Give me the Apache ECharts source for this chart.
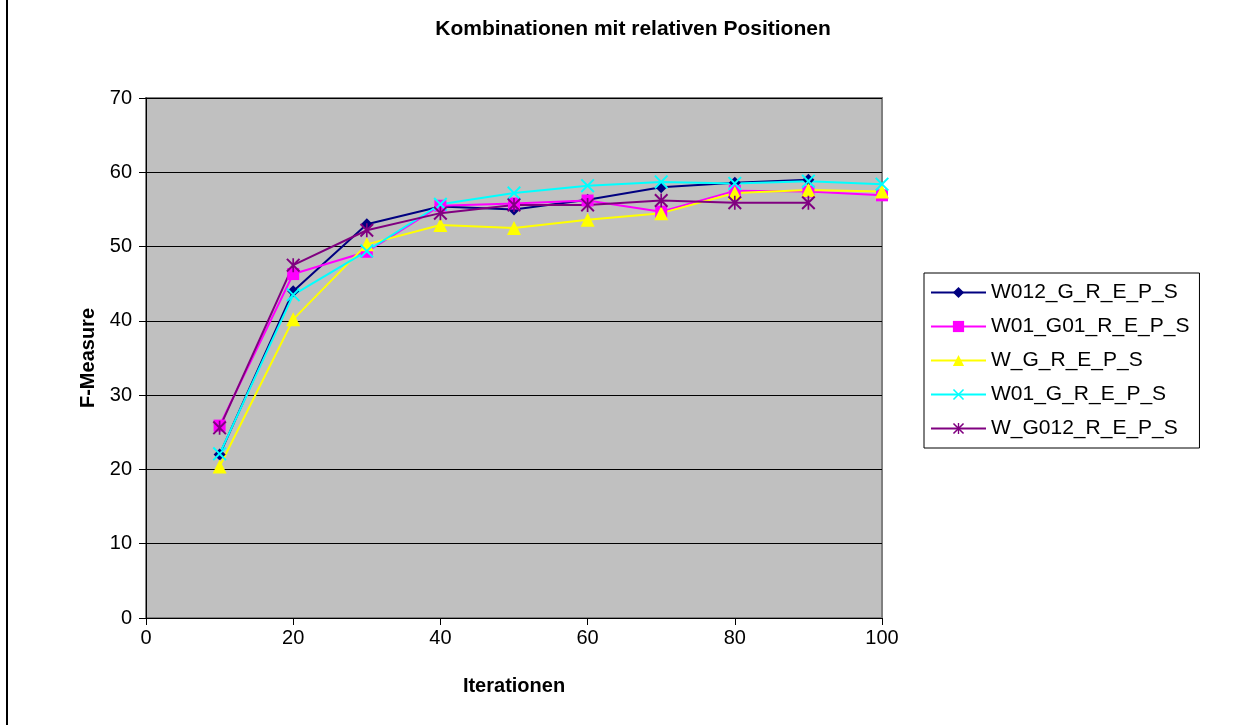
<!DOCTYPE html>
<html>
<head>
<meta charset="utf-8">
<script src="https://cdn.jsdelivr.net/npm/echarts@6/dist/echarts.min.js"></script>
<style>
  html, body { margin: 0; padding: 0; background: #fff; }
  #app { width: 1246px; height: 725px; }
</style>
</head>
<body>
<div id="app"></div>
<script>
// Iterationen (x) for each measured point
var iterations = [10, 20, 30, 40, 50, 60, 70, 80, 90, 100];

// F-Measure values per combination
var w012_g   = [22.0, 44.0, 53.0, 55.4, 55.0, 56.3, 58.0, 58.6, 59.0];
var w01_g01  = [25.9, 46.3, 49.3, 55.5, 55.8, 56.2, 54.7, 57.5, 57.4, 56.9];
var w_g      = [20.4, 40.2, 50.3, 52.9, 52.5, 53.6, 54.5, 57.2, 57.6, 57.4];
var w01_g    = [22.1, 43.5, 49.4, 55.7, 57.2, 58.2, 58.7, 58.5, 58.8, 58.4];
var w_g012   = [25.6, 47.5, 52.2, 54.5, 55.6, 55.6, 56.2, 55.9, 55.9];

var seriesNames = ['W012_G_R_E_P_S', 'W01_G01_R_E_P_S', 'W_G_R_E_P_S', 'W01_G_R_E_P_S', 'W_G012_R_E_P_S'];
var seriesValues = [w012_g, w01_g01, w_g, w01_g, w_g012];

var colors = ['#000080', '#FF00FF', '#FFFF00', '#00FFFF', '#800080'];
var crossPath = 'path://M0,1 L1,0 L5,4 L9,0 L10,1 L6,5 L10,9 L9,10 L5,6 L1,10 L0,9 L4,5 Z';
var starPath = 'path://M0,1 L1,0 L10,9 L9,10 Z M9,0 L10,1 L1,10 L0,9 Z M4.4,0 L5.6,0 L5.6,10 L4.4,10 Z';
var symbols = ['diamond', 'rect', 'triangle', crossPath, starPath];
var symbolSizes = [12, 12, 14, 14, 14];

function pairs(vals) {
  return vals.map(function (v, i) { return [iterations[i], v]; });
}

var font = '"Liberation Sans", Arial, sans-serif';

var chart = echarts.init(document.getElementById('app'));

chart.setOption({
  animation: false,
  backgroundColor: '#ffffff',
  textStyle: { fontFamily: font },
  title: {
    text: 'Kombinationen mit relativen Positionen',
    left: 628,
    textAlign: 'center',
    top: 14,
    textStyle: { fontFamily: font, fontSize: 21, fontWeight: 'bold', color: '#000' }
  },
  graphic: [{
    type: 'rect',
    shape: { x: 6, y: 0, width: 2, height: 725 },
    style: { fill: '#000' },
    silent: true
  }],
  legend: {
    orient: 'vertical',
    left: 924,
    top: 273,
    padding: [9, 10, 9, 6],
    itemWidth: 55,
    itemHeight: 14,
    itemGap: 13,
    borderColor: '#000',
    borderWidth: 1,
    backgroundColor: '#fff',
    textStyle: { fontFamily: font, fontSize: 21, color: '#000' },
    data: seriesNames
  },
  grid: {
    left: 146,
    right: 364,
    top: 98,
    bottom: 107,
    show: true,
    backgroundColor: '#C0C0C0',
    borderColor: '#808080',
    borderWidth: 2
  },
  xAxis: {
    type: 'value',
    min: 0,
    max: 100,
    interval: 20,
    name: 'Iterationen',
    nameLocation: 'middle',
    nameGap: 58,
    nameTextStyle: { fontFamily: font, fontSize: 20, fontWeight: 'bold', color: '#000' },
    axisLine: { show: true, onZero: false, lineStyle: { color: '#000', width: 1 } },
    axisTick: { show: true, inside: false, length: 7, lineStyle: { color: '#000' } },
    axisLabel: { fontFamily: font, fontSize: 20, color: '#000', margin: 10 },
    splitLine: { show: false }
  },
  yAxis: {
    type: 'value',
    min: 0,
    max: 70,
    interval: 10,
    name: 'F-Measure',
    nameLocation: 'middle',
    nameGap: 48,
    nameTextStyle: { fontFamily: font, fontSize: 20, fontWeight: 'bold', color: '#000' },
    axisLine: { show: true, lineStyle: { color: '#000', width: 1 } },
    axisTick: { show: true, inside: false, length: 7, lineStyle: { color: '#000' } },
    axisLabel: { fontFamily: font, fontSize: 20, color: '#000', margin: 14 },
    splitLine: { show: true, lineStyle: { color: '#000', width: 1 } }
  },
  series: seriesNames.map(function (name, i) {
    return {
      name: name,
      type: 'line',
      data: pairs(seriesValues[i]),
      symbol: symbols[i],
      symbolSize: symbolSizes[i],
      showAllSymbol: true,
      color: colors[i],
      lineStyle: { color: colors[i], width: 2 },
      itemStyle: { color: colors[i], borderWidth: 0 },
      emphasis: { disabled: true }
    };
  })
});
</script>
</body>
</html>
